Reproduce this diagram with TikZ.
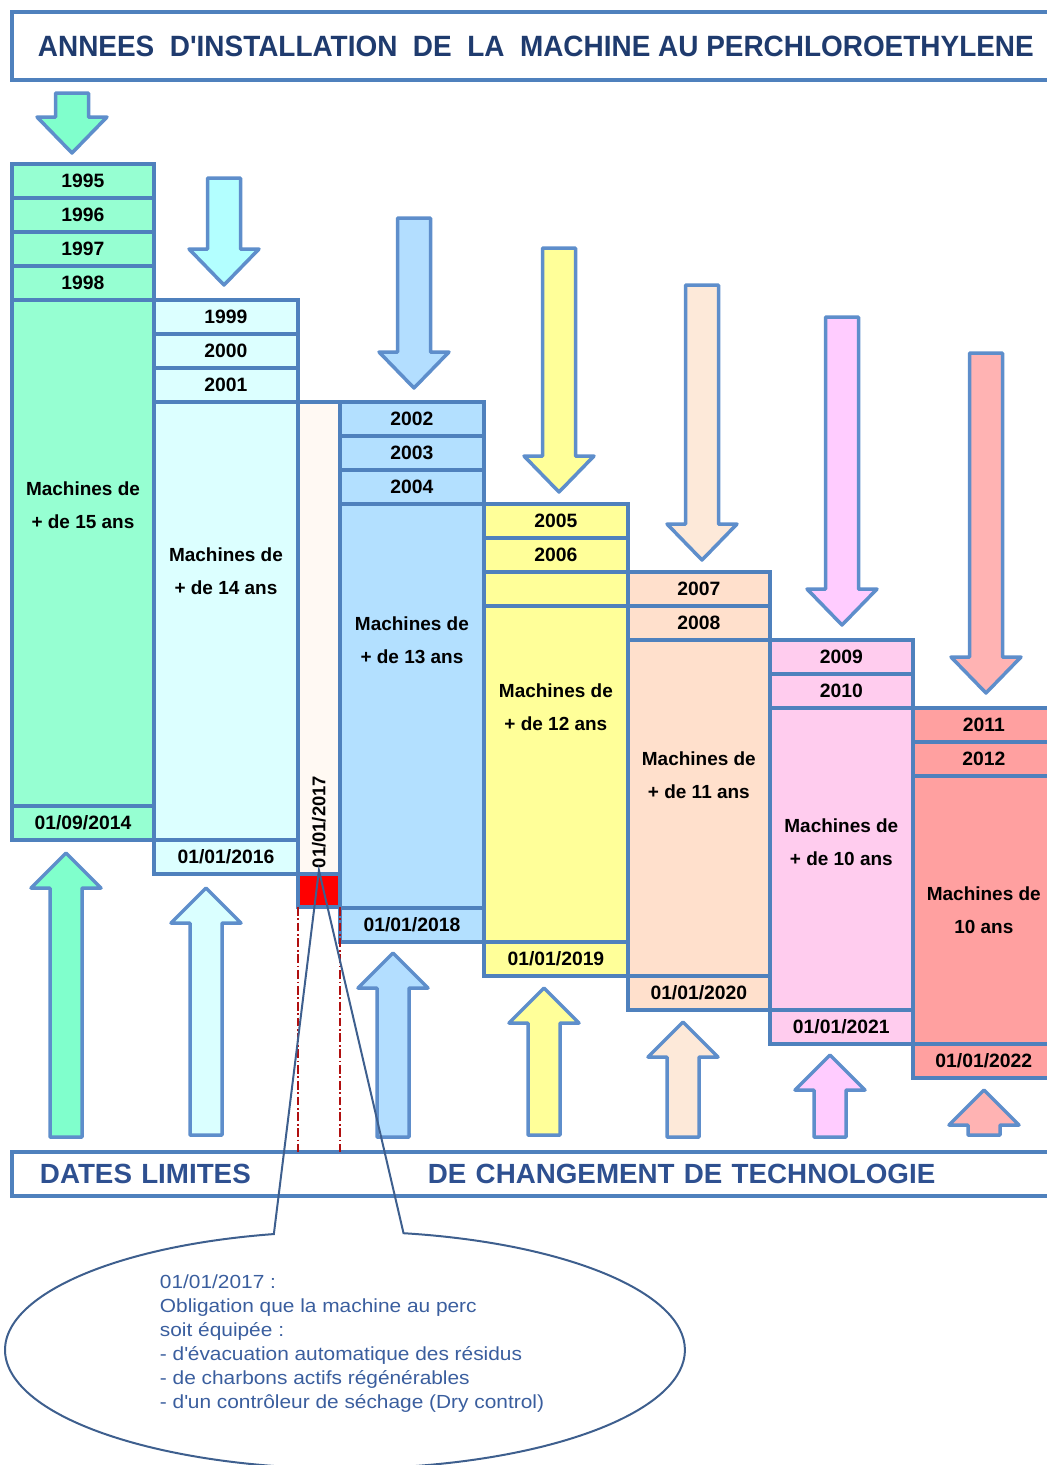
\documentclass[tikz,border=0pt]{standalone}
\usepackage{fontspec}
\setmainfont{Liberation Sans}
\newfontfamily\notefont[FakeStretch=1.1]{Liberation Sans}
\usepackage{graphicx}
\usetikzlibrary{positioning,shapes.callouts}

\definecolor{bord}{HTML}{4F81BD}
\definecolor{arrbord}{HTML}{5E8ECB}
\definecolor{titletxt}{HTML}{1F3B6E}
\definecolor{bannertxt}{HTML}{2E5090}
\definecolor{notetxt}{HTML}{3A5E9E}
\definecolor{noteline}{HTML}{3E5F8E}
\definecolor{limitred}{HTML}{B01010}
\definecolor{fillA}{HTML}{96FFD2}
\definecolor{fillB}{HTML}{DCFFFF}
\definecolor{fillS}{HTML}{FFF9F3}
\definecolor{fillC}{HTML}{B3E0FF}
\definecolor{fillD}{HTML}{FFFF99}
\definecolor{fillE}{HTML}{FFE0CC}
\definecolor{fillF}{HTML}{FFCCEE}
\definecolor{fillG}{HTML}{FFA0A0}
\definecolor{arrA}{HTML}{80FFCC}
\definecolor{arrB}{HTML}{B3FFFF}
\definecolor{arrBl}{HTML}{DAFFFF}
\definecolor{arrC}{HTML}{B3DEFF}
\definecolor{arrD}{HTML}{FFFF99}
\definecolor{arrE}{HTML}{FDE9D9}
\definecolor{arrF}{HTML}{FFCCFF}
\definecolor{arrG}{HTML}{FFB3B3}

\tikzset{
  cell/.style={draw=bord, line width=.09cm, inner sep=0pt, outer sep=0pt, minimum height=.68cm,
    font=\bfseries\fontsize{11}{13}\selectfont},
  c1/.style={cell, fill=fillA, minimum width=2.84cm},
  c2/.style={cell, fill=fillB, minimum width=2.88cm},
  c3/.style={cell, fill=fillC, minimum width=2.88cm},
  c4/.style={cell, fill=fillD, minimum width=2.88cm},
  c5/.style={cell, fill=fillE, minimum width=2.84cm},
  c6/.style={cell, fill=fillF, minimum width=2.86cm},
  c7/.style={cell, fill=fillG, minimum width=2.84cm},
  machtxt/.style={align=center, font=\bfseries\fontsize{10.8}{18.8}\selectfont},
  banner/.style={draw=bord, line width=.09cm, inner sep=0pt, outer sep=0pt},
  blockarrow/.style={draw=arrbord, line width=.07cm, line join=round},
  limitline/.style={draw=limitred, line width=1pt, dash pattern=on 5pt off 1.5pt on 1pt off 1.5pt},
}

% block arrows: centre x, top y, tip y, colour
\newcommand{\arrdown}[4]{%
  \draw[blockarrow, fill=#4] ({#1-16.5},#2) -- ({#1+16.5},#2) -- ({#1+16.5},{#3-36}) -- ({#1+35},{#3-36})
    -- (#1,#3) -- ({#1-35},{#3-36}) -- ({#1-16.5},{#3-36}) -- cycle;}
% centre x, tip y, foot y, colour
\newcommand{\arrup}[4]{%
  \draw[blockarrow, fill=#4] (#1,#2) -- ({#1+35},{#2+35}) -- ({#1+16},{#2+35}) -- ({#1+16},#3)
    -- ({#1-16},#3) -- ({#1-16},{#2+35}) -- ({#1-35},{#2+35}) -- cycle;}

\begin{document}
\begin{tikzpicture}[x=0.02cm, y=-0.02cm]
\useasboundingbox (0,0) rectangle (1046,1465);

\node[banner, anchor=north west, minimum width=20.96cm, minimum height=1.36cm, text=titletxt,
  font=\bfseries\fontsize{16.7}{20}\selectfont] (title) at (12,12)
  {\resizebox{19.92cm}{\height}{ANNEES\ \ D\textquotesingle INSTALLATION\ \ DE\ \ LA\ \ MACHINE AU PERCHLOROETHYLENE}};

\arrdown{72}{93}{153}{arrA}
\arrdown{224}{178}{285}{arrB}
\arrdown{414}{218}{388}{arrC}
\arrdown{559}{248}{492}{arrD}
\arrdown{702}{285}{560}{arrE}
\arrdown{842}{317}{625}{arrF}
\arrdown{986}{353}{693}{arrG}

\arrup{66}{853}{1137}{arrA}
\arrup{206}{888}{1135}{arrBl}
\arrup{393}{953}{1137}{arrC}
\arrup{544}{988}{1135}{arrD}
\arrup{683}{1022}{1137}{arrE}
\arrup{830}{1055}{1137}{arrF}
\arrup{984}{1090}{1135}{arrG}

% 1995 - 1998
\node[c1, anchor=north west] (y1995) at (12,164) {1995};
\node[c1, below=0pt of y1995] (y1996) {1996};
\node[c1, below=0pt of y1996] (y1997) {1997};
\node[c1, below=0pt of y1997] (y1998) {1998};
\node[c1, below=0pt of y1998, minimum height=10.12cm] (m15) {};
\node[c1, below=0pt of m15] (d2014) {01/09/2014};
\node[machtxt] (t15) at ([yshift=-4.1cm]m15.north) {Machines de\\+ de 15 ans};

% 1999 - 2001
\node[c2, anchor=north west] (y1999) at (m15.north east) {1999};
\node[c2, below=0pt of y1999] (y2000) {2000};
\node[c2, below=0pt of y2000] (y2001) {2001};
\node[c2, below=0pt of y2001, minimum height=8.76cm] (m14) {};
\node[c2, below=0pt of m14] (d2016) {01/01/2016};
\node[machtxt] (t14) at ([yshift=-3.38cm]m14.north) {Machines de\\+ de 14 ans};

% 2017
\node[cell, fill=fillS, minimum width=.84cm, minimum height=9.44cm, anchor=north west] (s2017) at (m14.north east) {};
\node[cell, fill=red, minimum width=.84cm, minimum height=.66cm, below=0pt of s2017] (r2017) {};
\node[rotate=90, anchor=west, inner sep=1pt, font=\bfseries\fontsize{10.5}{12}\selectfont] (t2017)
  at ([yshift=2pt]s2017.south) {01/01/2017};

% 2002 - 2004
\node[c3, anchor=north west] (y2002) at (s2017.north east) {2002};
\node[c3, below=0pt of y2002] (y2003) {2003};
\node[c3, below=0pt of y2003] (y2004) {2004};
\node[c3, below=0pt of y2004, minimum height=8.08cm] (m13) {};
\node[c3, below=0pt of m13] (d2018) {01/01/2018};
\node[machtxt] (t13) at ([yshift=-2.72cm]m13.north) {Machines de\\+ de 13 ans};

% 2005 - 2006
\node[c4, anchor=north west] (y2005) at (m13.north east) {2005};
\node[c4, below=0pt of y2005] (y2006) {2006};
\node[c4, below=0pt of y2006] (e2006) {};
\node[c4, below=0pt of e2006, minimum height=6.72cm] (m12) {};
\node[c4, below=0pt of m12] (d2019) {01/01/2019};
\node[machtxt] (t12) at ([yshift=-2.02cm]m12.north) {Machines de\\+ de 12 ans};

% 2007 - 2008
\node[c5, anchor=north west] (y2007) at (e2006.north east) {2007};
\node[c5, below=0pt of y2007] (y2008) {2008};
\node[c5, below=0pt of y2008, minimum height=6.72cm] (m11) {};
\node[c5, below=0pt of m11] (d2020) {01/01/2020};
\node[machtxt] (t11) at ([yshift=-2.7cm]m11.north) {Machines de\\+ de 11 ans};

% 2009 - 2010
\node[c6, anchor=north west] (y2009) at (m11.north east) {2009};
\node[c6, below=0pt of y2009] (y2010) {2010};
\node[c6, below=0pt of y2010, minimum height=6.04cm] (m10) {};
\node[c6, below=0pt of m10] (d2021) {01/01/2021};
\node[machtxt] (t10) at ([yshift=-2.68cm]m10.north) {Machines de\\+ de 10 ans};

% 2011 - 2012
\node[c7, anchor=north west] (y2011) at (m10.north east) {2011};
\node[c7, below=0pt of y2011] (y2012) {2012};
\node[c7, below=0pt of y2012, minimum height=5.36cm] (m9) {};
\node[c7, below=0pt of m9] (d2022) {01/01/2022};
\node[machtxt] (t9) at ([yshift=-2.68cm]m9.north) {Machines de\\10 ans};

\node[banner, anchor=north west, minimum width=20.96cm, minimum height=.88cm, text width=20.96cm, align=left,
  text=bannertxt, font=\bfseries\fontsize{15.8}{19}\selectfont] (limits) at (12,1152)
  {\hspace*{.56cm}\makebox[7.76cm][l]{DATES LIMITES}DE CHANGEMENT DE TECHNOLOGIE};

\draw[limitline] (r2017.south west) -- (r2017.south west |- limits.north);
\draw[limitline] (r2017.south east) -- (r2017.south east |- limits.north);

\node[ellipse callout, draw=noteline, line width=.04cm, minimum width=13.6cm, minimum height=4.6cm,
  callout absolute pointer={(t2017.west)}, callout pointer arc=22, text=notetxt,
  font=\notefont\fontsize{10.8}{13.66}\selectfont] (note) at (345,1350)
  {\begin{tabular}{@{\hspace{.28cm}}l@{}}01/01/2017 :\\Obligation que la machine au perc\\soit équipée :\\
   - d\textquotesingle évacuation automatique des résidus\\- de charbons actifs régénérables\\
   - d\textquotesingle un contrôleur de séchage (Dry control)\\[.24cm]\end{tabular}};

\end{tikzpicture}
\end{document}
